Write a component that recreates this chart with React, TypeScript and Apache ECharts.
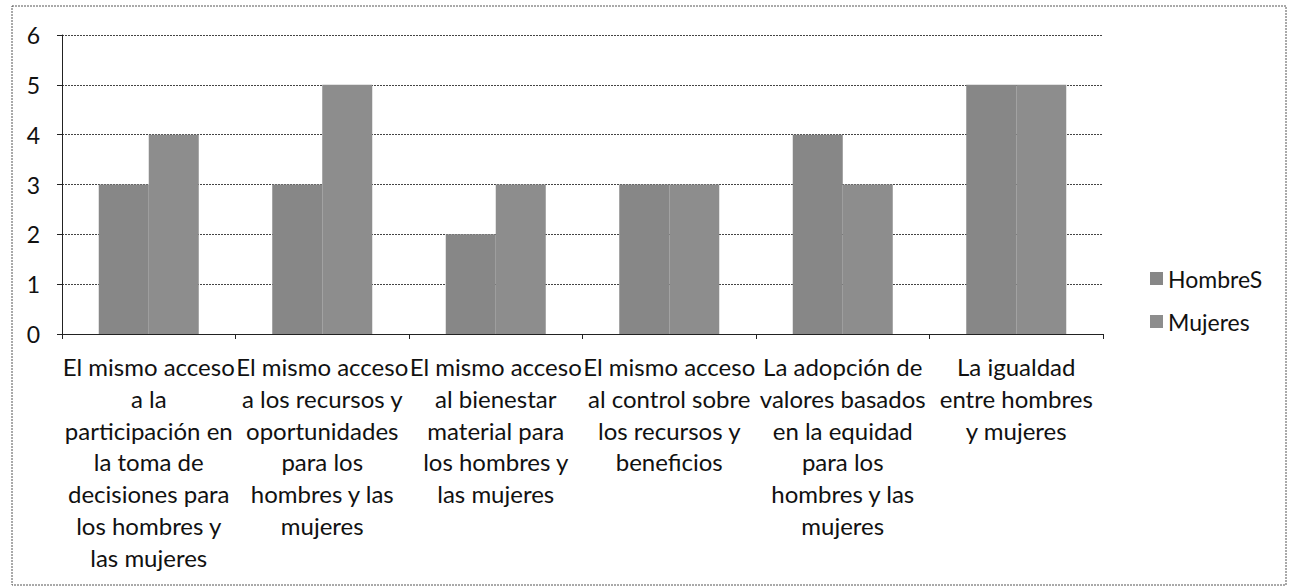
import React, { useEffect, useRef } from "react";
import * as echarts from "echarts";

const categories = [
  "El mismo acceso\na la\nparticipación en\nla toma de\ndecisiones para\nlos hombres y\nlas mujeres",
  "El mismo acceso\na los recursos y\noportunidades\npara los\nhombres y las\nmujeres",
  "El mismo acceso\nal bienestar\nmaterial para\nlos hombres y\nlas mujeres",
  "El mismo acceso\nal control sobre\nlos recursos y\nbeneficios",
  "La adopción de\nvalores basados\nen la equidad\npara los\nhombres y las\nmujeres",
  "La igualdad\nentre hombres\ny mujeres",
];
const hombres = [3, 3, 2, 3, 4, 5];
const mujeres = [4, 5, 3, 3, 3, 5];
const seriesNames = ["HombreS", "Mujeres"];

const FONT = "Lato";

export default function App() {
  const ref = useRef<HTMLDivElement>(null);
  useEffect(() => {
    const chart = echarts.init(ref.current!, null, { renderer: "svg" });
    chart.setOption({
      animation: false,
      backgroundColor: "#ffffff",
      textStyle: { fontFamily: FONT },
      graphic: [
        {
          type: "rect",
          shape: { x: 12, y: 6, width: 1274, height: 579 },
          style: { fill: "none", stroke: "#555", lineWidth: 1, lineDash: [2, 1] },
          z: 0,
        },
      ],
      grid: { left: 62, right: 189, top: 35, bottom: 252, containLabel: false },
      legend: {
        orient: "vertical",
        left: 1145,
        top: 262,
        itemWidth: 13,
        itemHeight: 13,
        itemGap: 20,
        icon: "rect",
        textStyle: { fontSize: 23, color: "#111", fontFamily: FONT },
        data: seriesNames,
      },
      xAxis: {
        type: "category",
        data: categories,
        axisLine: { lineStyle: { color: "#222" } },
        axisTick: { show: true, length: 5, lineStyle: { color: "#222" } },
        axisLabel: {
          interval: 0,
          fontSize: 24,
          lineHeight: 31.7,
          color: "#111",
          margin: 17,
          fontFamily: FONT,
        },
      },
      yAxis: {
        type: "value",
        min: 0,
        max: 6,
        interval: 1,
        axisLine: { show: true, lineStyle: { color: "#222" } },
        axisTick: { show: true, length: 5, lineStyle: { color: "#222" } },
        axisLabel: { fontSize: 23, color: "#111", margin: 22, fontFamily: FONT },
        splitLine: { lineStyle: { color: "#444", type: [2, 1], width: 1 } },
      },
      series: [
        {
          name: seriesNames[0],
          type: "bar",
          data: hombres,
          barWidth: 50,
          barGap: "0%",
          itemStyle: { color: "#878787" },
        },
        {
          name: seriesNames[1],
          type: "bar",
          data: mujeres,
          barWidth: 50,
          itemStyle: { color: "#8d8d8d" },
        },
      ],
    });
    return () => chart.dispose();
  }, []);
  return (
    <div
      ref={ref}
      style={{ position: "absolute", left: 0, top: 0, width: 1292, height: 586 }}
    />
  );
}
